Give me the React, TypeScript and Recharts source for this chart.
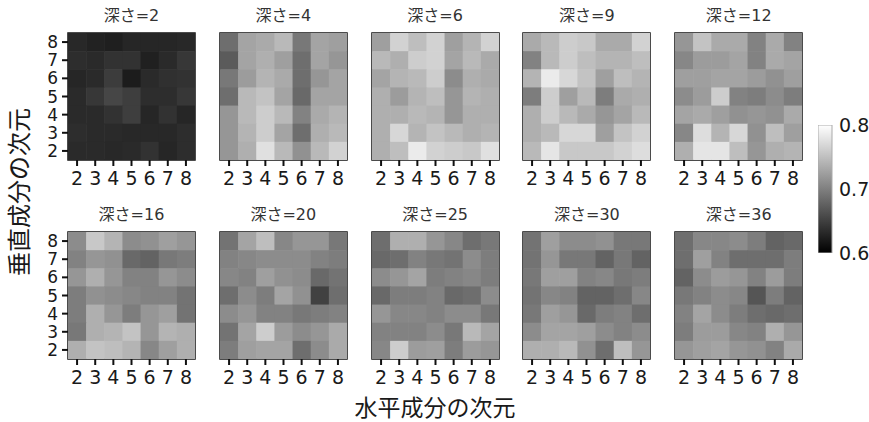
import React from 'react';
import { ScatterChart, Scatter, XAxis, YAxis, ReferenceArea, BarChart, Bar } from 'recharts';

// dimension index (horizontal / vertical components)
const dims = [2, 3, 4, 5, 6, 7, 8];
const depths = [2, 4, 6, 9, 12, 16, 20, 25, 30, 36];
const colorTicks = [0.6, 0.7, 0.8];

// rows listed from top (vertical=8) to bottom (vertical=2), columns horizontal 2..8
const depth2 = [
  [0.631, 0.627, 0.624, 0.630, 0.630, 0.630, 0.631],
  [0.635, 0.633, 0.639, 0.639, 0.625, 0.633, 0.643],
  [0.630, 0.633, 0.647, 0.622, 0.633, 0.638, 0.639],
  [0.633, 0.643, 0.655, 0.649, 0.635, 0.635, 0.643],
  [0.633, 0.633, 0.639, 0.649, 0.630, 0.639, 0.630],
  [0.635, 0.633, 0.633, 0.631, 0.631, 0.631, 0.635],
  [0.633, 0.633, 0.631, 0.633, 0.639, 0.630, 0.635],
];
const depth4 = [
  [0.686, 0.729, 0.733, 0.745, 0.694, 0.729, 0.725],
  [0.671, 0.729, 0.737, 0.725, 0.686, 0.729, 0.718],
  [0.694, 0.722, 0.741, 0.733, 0.686, 0.718, 0.729],
  [0.686, 0.745, 0.753, 0.729, 0.682, 0.729, 0.729],
  [0.718, 0.745, 0.761, 0.745, 0.702, 0.733, 0.741],
  [0.718, 0.741, 0.761, 0.729, 0.686, 0.737, 0.745],
  [0.718, 0.737, 0.776, 0.745, 0.714, 0.745, 0.765],
];
const depth6 = [
  [0.725, 0.765, 0.749, 0.765, 0.725, 0.741, 0.765],
  [0.745, 0.737, 0.761, 0.765, 0.729, 0.745, 0.733],
  [0.729, 0.741, 0.745, 0.761, 0.710, 0.737, 0.733],
  [0.737, 0.722, 0.741, 0.749, 0.718, 0.741, 0.737],
  [0.737, 0.737, 0.745, 0.741, 0.718, 0.737, 0.737],
  [0.737, 0.769, 0.741, 0.753, 0.745, 0.737, 0.741],
  [0.737, 0.749, 0.784, 0.765, 0.761, 0.757, 0.776],
];
const depth9 = [
  [0.733, 0.745, 0.761, 0.757, 0.733, 0.733, 0.765],
  [0.702, 0.745, 0.761, 0.749, 0.741, 0.741, 0.749],
  [0.741, 0.784, 0.769, 0.753, 0.725, 0.749, 0.741],
  [0.698, 0.761, 0.725, 0.745, 0.698, 0.733, 0.737],
  [0.737, 0.761, 0.745, 0.733, 0.718, 0.729, 0.745],
  [0.737, 0.745, 0.769, 0.769, 0.725, 0.753, 0.765],
  [0.745, 0.780, 0.757, 0.757, 0.757, 0.765, 0.773],
];
const depth12 = [
  [0.718, 0.753, 0.733, 0.733, 0.702, 0.733, 0.702],
  [0.706, 0.722, 0.722, 0.729, 0.702, 0.733, 0.729],
  [0.725, 0.725, 0.729, 0.729, 0.722, 0.714, 0.725],
  [0.710, 0.722, 0.761, 0.702, 0.698, 0.710, 0.698],
  [0.729, 0.733, 0.725, 0.714, 0.718, 0.714, 0.733],
  [0.706, 0.773, 0.741, 0.769, 0.714, 0.749, 0.725],
  [0.737, 0.780, 0.780, 0.749, 0.718, 0.737, 0.741],
];
const depth16 = [
  [0.710, 0.757, 0.741, 0.710, 0.714, 0.725, 0.718],
  [0.702, 0.718, 0.714, 0.682, 0.678, 0.694, 0.698],
  [0.718, 0.737, 0.718, 0.702, 0.702, 0.718, 0.710],
  [0.698, 0.714, 0.710, 0.706, 0.702, 0.702, 0.690],
  [0.698, 0.737, 0.718, 0.698, 0.718, 0.725, 0.690],
  [0.694, 0.737, 0.741, 0.753, 0.718, 0.741, 0.737],
  [0.737, 0.753, 0.749, 0.741, 0.706, 0.725, 0.737],
];
const depth20 = [
  [0.690, 0.729, 0.749, 0.706, 0.718, 0.718, 0.694],
  [0.702, 0.706, 0.710, 0.710, 0.710, 0.702, 0.698],
  [0.706, 0.702, 0.725, 0.714, 0.710, 0.682, 0.690],
  [0.686, 0.710, 0.698, 0.729, 0.714, 0.651, 0.686],
  [0.710, 0.718, 0.702, 0.702, 0.694, 0.698, 0.702],
  [0.690, 0.729, 0.761, 0.722, 0.710, 0.718, 0.733],
  [0.698, 0.725, 0.729, 0.729, 0.686, 0.710, 0.733],
];
const depth25 = [
  [0.686, 0.737, 0.737, 0.718, 0.706, 0.686, 0.694],
  [0.682, 0.686, 0.702, 0.694, 0.690, 0.710, 0.698],
  [0.710, 0.718, 0.729, 0.698, 0.702, 0.706, 0.698],
  [0.682, 0.698, 0.698, 0.702, 0.682, 0.686, 0.710],
  [0.718, 0.706, 0.706, 0.702, 0.710, 0.710, 0.694],
  [0.702, 0.702, 0.702, 0.710, 0.694, 0.745, 0.729],
  [0.706, 0.761, 0.722, 0.725, 0.698, 0.722, 0.718],
];
const depth30 = [
  [0.690, 0.725, 0.710, 0.710, 0.714, 0.694, 0.694],
  [0.690, 0.718, 0.694, 0.694, 0.678, 0.694, 0.678],
  [0.694, 0.725, 0.725, 0.702, 0.706, 0.694, 0.698],
  [0.690, 0.706, 0.702, 0.678, 0.678, 0.686, 0.706],
  [0.694, 0.725, 0.718, 0.682, 0.698, 0.702, 0.686],
  [0.710, 0.729, 0.729, 0.725, 0.710, 0.702, 0.710],
  [0.737, 0.737, 0.745, 0.714, 0.686, 0.749, 0.718],
];
const depth36 = [
  [0.686, 0.706, 0.706, 0.710, 0.698, 0.678, 0.682],
  [0.686, 0.725, 0.702, 0.686, 0.686, 0.686, 0.698],
  [0.678, 0.710, 0.722, 0.718, 0.702, 0.722, 0.698],
  [0.694, 0.702, 0.710, 0.706, 0.667, 0.698, 0.678],
  [0.702, 0.729, 0.710, 0.698, 0.686, 0.682, 0.686],
  [0.698, 0.722, 0.722, 0.706, 0.702, 0.737, 0.718],
  [0.718, 0.725, 0.729, 0.718, 0.714, 0.702, 0.733],
];

const grids = [depth2, depth4, depth6, depth9, depth12, depth16, depth20, depth25, depth30, depth36];

const FONT = '"DejaVu Sans", "Noto Sans CJK JP", sans-serif';
const CJK = '"Noto Sans CJK JP", sans-serif';
const VMIN = 0.6;
const VMAX = 0.8;

const PW = 127;
const PH = 127;
const ML = 40;
const MT = 14;
const MR = 4;
const MB = 34;

const gray = (v: number) => {
  const t = Math.max(0, Math.min(1, (v - VMIN) / (VMAX - VMIN)));
  const g = Math.round(t * 255);
  return `rgb(${g},${g},${g})`;
};

const Panel = ({ depth, grid, left, top, showY }: { depth: number; grid: number[][]; left: number; top: number; showY: boolean }) => {
  const points: { x: number; y: number; v: number }[] = [];
  grid.forEach((row, ri) =>
    row.forEach((v, ci) => points.push({ x: dims[ci], y: dims[dims.length - 1 - ri], v }))
  );
  const cw = PW / dims.length;
  const ch = PH / dims.length;
  return (
    <>
      <div
        style={{
          position: 'absolute', left, top: top - 27, width: PW, textAlign: 'center',
          fontFamily: FONT, fontSize: 16, color: '#333', lineHeight: '20px', whiteSpace: 'nowrap',
        }}
      >
        深さ={depth}
      </div>
      <div style={{ position: 'absolute', left: left - ML, top: top - MT }}>
        <ScatterChart width={ML + PW + MR} height={MT + PH + MB} margin={{ top: MT, right: MR, bottom: 0, left: 0 }}>
          <XAxis
            type="number" dataKey="x" domain={[1.5, 8.5]} ticks={dims} allowDataOverflow interval={0}
            height={MB} axisLine={false} tickSize={6} tickMargin={6}
            tickLine={{ stroke: '#111', strokeWidth: 2 }}
            tick={{ fill: '#1a1a1a', fontSize: 19, fontFamily: FONT }}
          />
          <YAxis
            type="number" dataKey="y" domain={[1.5, 8.5]} ticks={dims} allowDataOverflow interval={0}
            width={ML} axisLine={false} tickSize={6} tickMargin={4}
            tickLine={{ stroke: '#111', strokeWidth: 2 }}
            tick={showY ? { fill: '#1a1a1a', fontSize: 17, fontFamily: FONT } : false}
          />
          <Scatter
            data={points}
            isAnimationActive={false}
            shape={(p: any) => (
              <rect x={p.cx - cw / 2} y={p.cy - ch / 2} width={cw + 0.6} height={ch + 0.6} fill={gray(p.payload.v)} />
            )}
          />
          <ReferenceArea x1={1.5} x2={8.5} y1={1.5} y2={8.5} fill="none" fillOpacity={0} stroke="#111" strokeWidth={1.5} ifOverflow="visible" />
        </ScatterChart>
      </div>
    </>
  );
};

const cbarData = [{ name: 'cbar', v: VMAX }];

const ColorBar = ({ left, top }: { left: number; top: number }) => (
  <div style={{ position: 'absolute', left, top: top - 16 }}>
    <BarChart width={51} height={160} data={cbarData} margin={{ top: 16, right: 0, bottom: 16, left: 0 }} barCategoryGap={0}>
      <defs>
        <linearGradient id="cbarGrad" x1="0" y1="0" x2="0" y2="1">
          <stop offset="0%" stopColor={gray(VMAX)} />
          <stop offset="100%" stopColor={gray(VMIN)} />
        </linearGradient>
      </defs>
      <XAxis dataKey="name" hide />
      <YAxis
        orientation="right" domain={[VMIN, VMAX]} ticks={colorTicks} allowDataOverflow interval={0}
        width={37} axisLine={false} tickLine={false} tickMargin={1}
        tick={{ fill: '#1a1a1a', fontSize: 19, fontFamily: FONT }}
        tickFormatter={(t: number) => t.toFixed(1)}
      />
      <Bar dataKey="v" fill="url(#cbarGrad)" stroke="#aaa" strokeWidth={1} isAnimationActive={false} />
    </BarChart>
  </div>
);

const colLefts = [68, 219.8, 371.6, 523.4, 675.2];
const rowTops = [33, 232];

export default function App() {
  return (
    <div style={{ position: 'absolute', left: 0, top: 0, width: 869, height: 422, background: '#fff' }}>
      {depths.map((d, i) => (
        <Panel
          key={d}
          depth={d}
          grid={grids[i]}
          left={colLefts[i % 5]}
          top={rowTops[Math.floor(i / 5)]}
          showY={i % 5 === 0}
        />
      ))}
      <ColorBar left={818} top={125} />
      <div
        style={{
          position: 'absolute', left: 18, top: 192, transform: 'translate(-50%, -50%) rotate(-90deg)',
          whiteSpace: 'nowrap', fontFamily: CJK, fontSize: 24, lineHeight: '26px', color: '#1a1a1a',
        }}
      >
        垂直成分の次元
      </div>
      <div
        style={{
          position: 'absolute', left: 435, top: 406, transform: 'translate(-50%, -50%)',
          whiteSpace: 'nowrap', fontFamily: CJK, fontSize: 23, lineHeight: '24px', color: '#1a1a1a',
        }}
      >
        水平成分の次元
      </div>
    </div>
  );
}
